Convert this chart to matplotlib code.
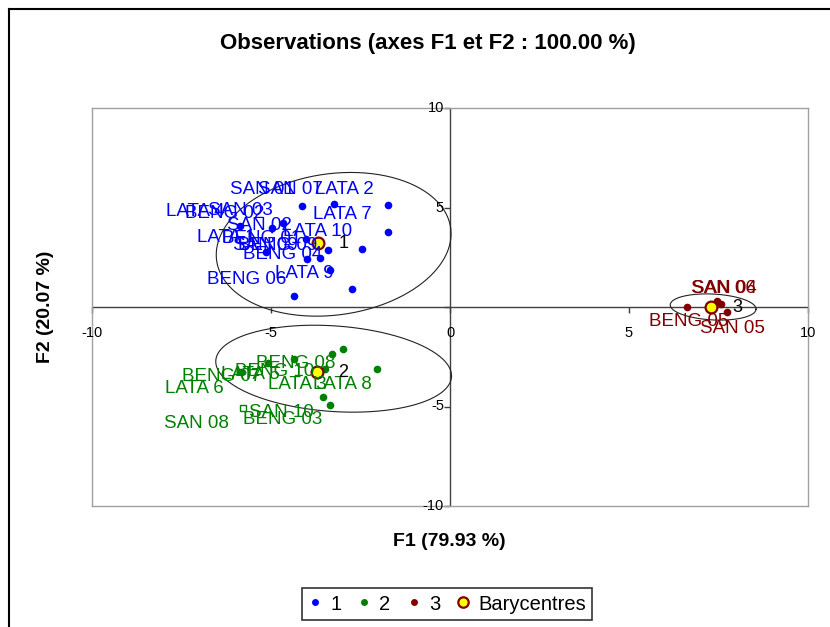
import numpy as np
import matplotlib
matplotlib.use('Agg')
import matplotlib.pyplot as plt
from matplotlib.lines import Line2D

plt.rcParams['font.family'] = ['Liberation Sans', 'DejaVu Sans']

# ---------------- data ----------------
c1_names = ['SAN 01', 'SAN 07', 'LATA 2', 'LATA 7', 'BENG 02', 'SAN 03', 'LATA 4', 'SAN 02',
            'BENG 01', 'LATA 10', 'LATA 1', 'SAN 09', 'BENG 09', 'BENG 04', 'LATA 9', 'BENG 06']
c1_f1 = [-4.13, -3.24, -1.74, -1.74, -5.87, -4.96, -4.66, -4.02,
         -3.40, -2.46, -5.14, -4.00, -3.63, -3.34, -2.75, -4.36]
c1_f2 = [5.09, 5.19, 5.13, 3.78, 4.07, 3.98, 4.21, 3.40,
         2.85, 2.93, 2.78, 2.40, 2.45, 1.86, 0.89, 0.57]

c2_names = ['BENG 08', 'BENG 10', 'LATA 5', 'BENG 07', 'LATA 6', 'LATA 8', 'SAN 10', 'BENG 03',
            'SAN 08', 'LATA 3']
c2_f1 = [-2.99, -3.30, -4.36, -5.08, -5.85, -2.03, -3.55, -3.35, -5.79, -3.49]
c2_f2 = [-2.09, -2.36, -2.63, -2.80, -3.28, -3.13, -4.53, -4.90, -5.09, -3.12]
c2_square = 'SAN 08'

c3_names = ['BENG 05', 'SAN 06', 'SAN 04', 'SAN 05']
c3_f1 = [6.63, 7.47, 7.56, 7.75]
c3_f2 = [0.02, 0.30, 0.14, -0.27]

bary_names = ['1', '2', '3']
bary_f1 = [-3.70, -3.71, 7.29]
bary_f2 = [3.22, -3.25, 0.02]

# confidence ellipses (centre, semi-axes in axis units, tilt in degrees)
ell_cx = [-3.25, -3.25, 7.35]
ell_cy = [3.15, -3.10, 0.0]
ell_ax = [3.3, 3.3, 1.2]
ell_ay = [3.55, 2.15, 0.65]
ell_ang = [8, -4, -3]

ticks = [-10, -5, 0, 5, 10]

# label offsets (pixels) of each label centre from its point
c1_off = [(-40, 16), (-44, 14), (-43, 15), (-45, 17), (-15, 13), (-32, 17), (-88, 12), (-47, 14),
          (-67, 12), (-44, 17), (-40, 14), (-41, 14), (-42, 13), (-48, 15), (-47, 16), (-47, 16)]
c2_off = [(-47, -15), (-57, -18), (-44, -15), (-46, -14), (-46, -16), (-35, -15), (-42, -15),
          (-47, -15), (-46, -15), (-28, -15)]
c3_off = [(1, -15), (6, 13), (4, 16), (5, -16)]

col1, col2, col3 = '#0000FF', '#008000', '#800000'

# ---------------- figure ----------------
W, H = 830, 627
fig = plt.figure(figsize=(W / 100, H / 100), dpi=100)
ax = fig.add_axes([92 / W, 1 - 506 / H, (808 - 92) / W, (506 - 108) / H])
ax.set_xlim(-10, 10)
ax.set_ylim(-10, 10)
ax.set_xticks([])
ax.set_yticks([])
for s in ax.spines.values():
    s.set_color('#a0a0a0')
    s.set_linewidth(1.0)

sx = ax.bbox.width / 20.0
sy = ax.bbox.height / 20.0

# zero axes
ax.axhline(0, color='#404040', lw=1.0, zorder=1)
ax.axvline(0, color='#404040', lw=1.0, zorder=1)
ax.plot(ticks, [0] * len(ticks), ls='none', marker=3, ms=4, color='#404040', mew=1.0, zorder=1, clip_on=False)
ax.plot([0] * len(ticks), ticks, ls='none', marker=0, ms=4, color='#404040', mew=1.0, zorder=1, clip_on=False)
for t in ticks:
    ax.annotate(str(t), (t, 0), xytext=(0, -26), textcoords='offset pixels',
                ha='center', va='center', fontsize=10.5, annotation_clip=False)
    if t != 0:
        ax.annotate(str(t), (0, t), xytext=(-6, 0), textcoords='offset pixels',
                    ha='right', va='center', fontsize=10.5, annotation_clip=False)

# ellipses
tt = np.linspace(0, 2 * np.pi, 300)
for cx, cy, a, b, ang in zip(ell_cx, ell_cy, ell_ax, ell_ay, ell_ang):
    th = np.deg2rad(ang)
    ap, bp = a * sx, b * sy
    X = ap * np.cos(tt) * np.cos(th) - bp * np.sin(tt) * np.sin(th)
    Y = ap * np.cos(tt) * np.sin(th) + bp * np.sin(tt) * np.cos(th)
    ax.plot(cx + X / sx, cy + Y / sy, color='#222222', lw=0.8, zorder=2)

# points
ax.plot(c1_f1, c1_f2, 'o', color=col1, ms=5.5, mew=0, zorder=3)
sq = [n == c2_square for n in c2_names]
ax.plot([x for x, q in zip(c2_f1, sq) if not q], [y for y, q in zip(c2_f2, sq) if not q],
        'o', color=col2, ms=5.5, mew=0, zorder=3)
ax.plot([x for x, q in zip(c2_f1, sq) if q], [y for y, q in zip(c2_f2, sq) if q],
        's', mfc='white', mec=col2, ms=4, mew=1.0, zorder=3)
ax.plot(c3_f1, c3_f2, 'o', color=col3, ms=5.5, mew=0, zorder=3)
ax.plot(bary_f1, bary_f2, 'o', mfc='#FFFF00', mec=col3, ms=8.5, mew=1.6, zorder=4)

# labels
for names, xs, ys, offs, col in [(c1_names, c1_f1, c1_f2, c1_off, col1),
                                 (c2_names, c2_f1, c2_f2, c2_off, col2),
                                 (c3_names, c3_f1, c3_f2, c3_off, col3)]:
    for n, x, y, (dx, dy) in zip(names, xs, ys, offs):
        ax.annotate(n, (x, y), xytext=(dx, dy), textcoords='offset pixels',
                    ha='center', va='center', fontsize=13.5, color=col, zorder=5)
for n, x, y in zip(bary_names, bary_f1, bary_f2):
    ax.annotate(n, (x, y), xytext=(26, -1), textcoords='offset pixels',
                ha='center', va='center', fontsize=13, color='black', zorder=5)

# titles
fig.text(428 / W, 1 - 43 / H, 'Observations (axes F1 et F2 : 100.00 %)',
         ha='center', va='center', fontsize=16, fontweight='bold')
fig.text(449 / W, 1 - 541 / H, 'F1 (79.93 %)', ha='center', va='center',
         fontsize=14, fontweight='bold')
fig.text(45 / W, 1 - 307 / H, 'F2 (20.07 %)', ha='center', va='center',
         fontsize=14, fontweight='bold', rotation=90)

# legend
handles = [Line2D([], [], ls='none', marker='o', color=col1, ms=5, mew=0),
           Line2D([], [], ls='none', marker='o', color=col2, ms=5, mew=0),
           Line2D([], [], ls='none', marker='o', color=col3, ms=5, mew=0),
           Line2D([], [], ls='none', marker='o', mfc='#FFFF00', mec=col3, ms=7.5, mew=1.6)]
leg = fig.legend(handles, bary_names + ['Barycentres'], loc='center',
                 bbox_to_anchor=(447 / W, 1 - 604 / H), ncol=4, fontsize=14.5,
                 frameon=True, fancybox=False, handlelength=0.7, handletextpad=0.4,
                 columnspacing=0.8, borderpad=0.3)
leg.get_frame().set_edgecolor('black')
leg.get_frame().set_linewidth(1.2)

# outer frame
fig.add_artist(Line2D([9 / W, 9 / W], [1 - 9 / H, -0.1], color='black', lw=1.5,
                      transform=fig.transFigure))
fig.add_artist(Line2D([9 / W, 1.1], [1 - 9 / H, 1 - 9 / H], color='black', lw=1.5,
                      transform=fig.transFigure))

fig.savefig('out.png', dpi=100)
